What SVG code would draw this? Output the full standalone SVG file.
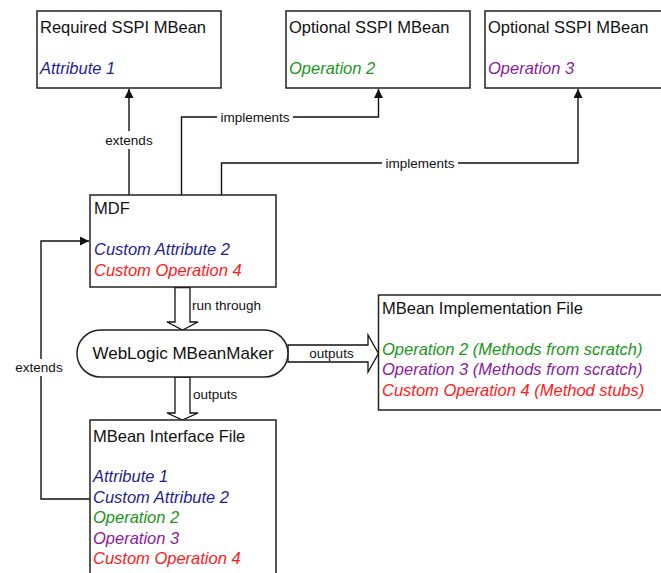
<svg xmlns="http://www.w3.org/2000/svg" width="661" height="573" viewBox="0 0 661 573">
<style>
.box{fill:#fff;stroke:#222;stroke-width:1.5}
.t{font-family:"Liberation Sans",Arial,sans-serif;font-size:16.5px;fill:#111}
.i{font-family:"Liberation Sans",Arial,sans-serif;font-size:16.5px;font-style:italic}
.b{fill:#1e1e90}.g{fill:#1a961a}.p{fill:#8c1a9a}.r{fill:#ff1a1a}
.lbl{font-family:"Liberation Sans",Arial,sans-serif;font-size:13.5px;fill:#111}
.ln{fill:none;stroke:#111;stroke-width:1.4}
.hollow{fill:#fff;stroke:#111;stroke-width:1.3}
.bg{fill:#fff}
</style>
<defs>
<marker id="ah" markerUnits="userSpaceOnUse" markerWidth="10" markerHeight="10" refX="9" refY="4.5" orient="auto">
<path d="M0,0 L9,4.5 L0,9 Z" fill="#111"/>
</marker>
</defs>
<rect width="661" height="573" fill="#fff"/>

<g id="connectors">
<path class="ln" d="M129,195 V89" marker-end="url(#ah)"/>
<rect class="bg" x="103" y="131" width="52" height="18"/>
<text class="lbl" x="129" y="145" text-anchor="middle">extends</text>

<path class="ln" d="M181.5,195 V117 H378.5 V89" marker-end="url(#ah)"/>
<rect class="bg" x="217" y="109" width="76" height="17"/>
<text class="lbl" x="255" y="122" text-anchor="middle">implements</text>

<path class="ln" d="M221.5,195 V163 H578 V89" marker-end="url(#ah)"/>
<rect class="bg" x="382" y="155" width="76" height="17"/>
<text class="lbl" x="420" y="168" text-anchor="middle">implements</text>

<path class="ln" d="M90,499 H41 V241 H89" marker-end="url(#ah)"/>
<rect class="bg" x="12" y="359" width="54" height="17"/>
<text class="lbl" x="39" y="372" text-anchor="middle">extends</text>

<polygon class="hollow" points="175,287.5 190,287.5 190,322 198,322 182.5,330 167,322 175,322"/>
<text class="lbl" x="192" y="310">run through</text>

<polygon class="hollow" points="175,377 190,377 190,413 198,413 182.5,420 167,413 175,413"/>
<text class="lbl" x="193" y="399">outputs</text>

<polygon class="hollow" points="288,345 368,345 368,335 378.5,353.5 368,372 368,362 288,362"/>
<text class="lbl" x="331.5" y="358" text-anchor="middle">outputs</text>
</g>

<g id="required">
<rect class="box" x="37" y="11" width="184" height="77"/>
<text class="t" x="40" y="33">Required SSPI MBean</text>
<text class="i b" x="40" y="74">Attribute 1</text>
</g>

<g id="optional2">
<rect class="box" x="286" y="11" width="184" height="77"/>
<text class="t" x="289" y="33">Optional SSPI MBean</text>
<text class="i g" x="289" y="74">Operation 2</text>
</g>

<g id="optional3">
<rect class="box" x="485" y="11" width="190" height="77"/>
<text class="t" x="488" y="33">Optional SSPI MBean</text>
<text class="i p" x="488" y="74">Operation 3</text>
</g>

<g id="mdf">
<rect class="box" x="90" y="195" width="186" height="92"/>
<text class="t" x="94" y="214">MDF</text>
<text class="i b" x="94" y="255">Custom Attribute 2</text>
<text class="i r" x="94" y="276">Custom Operation 4</text>
</g>

<g id="mbeanmaker">
<rect class="box" x="77" y="330" width="211" height="47" rx="23.5" ry="23.5"/>
<text class="t" x="183" y="359" text-anchor="middle" style="font-size:17px">WebLogic MBeanMaker</text>
</g>

<g id="implfile">
<rect class="box" x="378.5" y="295" width="300" height="115"/>
<text class="t" x="382" y="314">MBean Implementation File</text>
<text class="i g" x="382" y="355">Operation 2 (Methods from scratch)</text>
<text class="i p" x="382" y="375">Operation 3 (Methods from scratch)</text>
<text class="i r" x="382" y="396">Custom Operation 4 (Method stubs)</text>
</g>

<g id="interfacefile">
<rect class="box" x="90" y="420" width="186" height="170"/>
<text class="t" x="93" y="442">MBean Interface File</text>
<text class="i b" x="93" y="482">Attribute 1</text>
<text class="i b" x="93" y="503">Custom Attribute 2</text>
<text class="i g" x="93" y="523">Operation 2</text>
<text class="i p" x="93" y="544">Operation 3</text>
<text class="i r" x="93" y="564">Custom Operation 4</text>
</g>
</svg>
